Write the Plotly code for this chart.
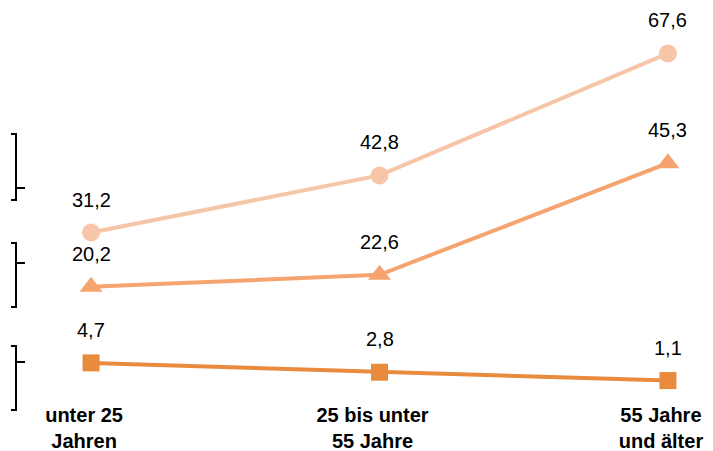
import plotly.graph_objects as go

categories = ["unter 25<br>Jahren", "25 bis unter<br>55 Jahre", "55 Jahre<br>und älter"]
series_names = ["Kreis", "Dreieck", "Quadrat"]
circle_vals = [31.2, 42.8, 67.6]
triangle_vals = [20.2, 22.6, 45.3]
square_vals = [4.7, 2.8, 1.1]

colors = ["#F7C5A8", "#F5A470", "#E98B3D"]
symbols = ["circle", "triangle-up", "square"]
sizes = [18, 20, 17]

x = [0, 1, 2]
W, H = 713, 451
fig = go.Figure()
annotations = []
for name, vals, col, sym, sz in zip(series_names, [circle_vals, triangle_vals, square_vals], colors, symbols, sizes):
    fig.add_trace(go.Scatter(
        x=x, y=vals, mode="lines+markers", name=name,
        line=dict(color=col, width=4),
        marker=dict(symbol=sym, size=sz, color=col),
        showlegend=False, hoverinfo="skip",
    ))
    for xi, v in zip(x, vals):
        annotations.append(dict(
            x=xi, y=v, xref="x", yref="y", text=f"{v:.1f}".replace(".", ","),
            showarrow=False, yshift=33,
            font=dict(family="Liberation Sans, Arial", size=20, color="#000"),
        ))

fig.update_layout(annotations=annotations)

# decorative brackets at left (pixel -> paper conversion); page has 8px body margin
mt, mb = 0, 60
ph = H - mt - mb
OFF = 8
def px(xp):
    return (xp - OFF) / W
def py(yp):
    return 1 - (yp - OFF - mt) / ph

brackets = [(134, 200, 188), (243, 307, 263), (346, 410, 362)]
shapes = []
for top, bot, tick in brackets:
    path = (f"M {px(11)},{py(top)} L {px(16)},{py(top)} L {px(16)},{py(bot)} L {px(11)},{py(bot)} "
            f"M {px(16)},{py(tick)} L {px(25)},{py(tick)}")
    shapes.append(dict(type="path", xref="paper", yref="paper", path=path,
                       line=dict(color="#000", width=2)))

fig.update_layout(
    width=W, height=H,
    margin=dict(l=0, r=0, t=mt, b=mb),
    paper_bgcolor="white", plot_bgcolor="white",
    shapes=shapes,
    xaxis=dict(range=[-0.288, 2.184], tickmode="array", tickvals=x,
               ticktext=[f"<b>{c}</b>" for c in categories],
               ticklabelshift=-7, ticklabelstandoff=2,
               showgrid=False, zeroline=False, showline=False, ticks="",
               tickfont=dict(family="Liberation Sans, Arial", size=20, color="#000")),
    yaxis=dict(range=[-2.64, 76.83], visible=False, showgrid=False, zeroline=False),
)

fig.write_html("out.html")
